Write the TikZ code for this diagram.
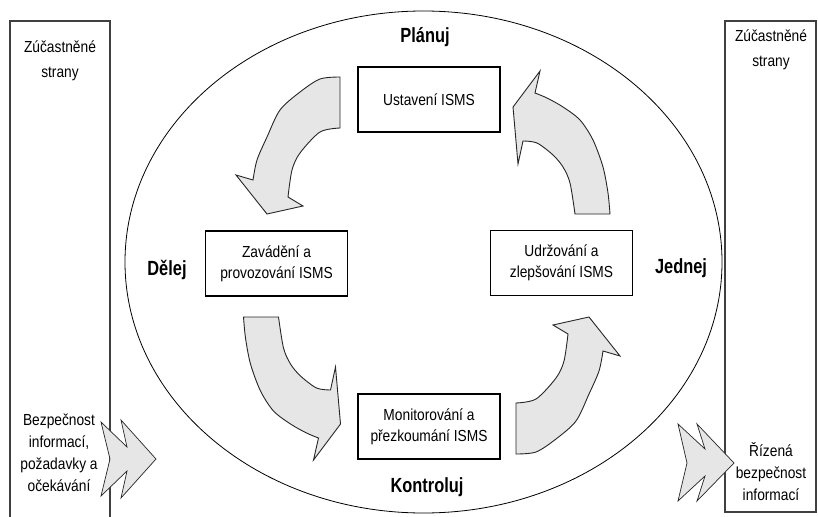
\documentclass[tikz,border=0pt]{standalone}
\usepackage{fontspec}
\newfontfamily\txtfont{Liberation Sans}[FakeStretch=0.86]
\newfontfamily\hdfont{Liberation Sans}[FakeStretch=0.8]
\definecolor{arrowgray}{HTML}{E6E6E6}
\definecolor{rectgray}{HTML}{404040}
\begin{document}
\begin{tikzpicture}[x=1pt,y=-1pt,
  stagebox/.style={draw=black, line width=1.1pt, minimum width=142pt, minimum height=65pt,
    inner sep=0pt, align=center, font=\txtfont\fontsize{16}{20.7}\selectfont},
  sidetext/.style={inner sep=0pt, align=center, font=\txtfont\fontsize{16}{22}\selectfont},
  sidetextwide/.style={inner sep=0pt, align=center, font=\txtfont\fontsize{16}{24.5}\selectfont},
  phase/.style={inner sep=0pt, font=\hdfont\bfseries\fontsize{20.5}{24}\selectfont},
  bigarrow/.style={fill=arrowgray, draw=black!85, line width=0.9pt, line join=miter},
  sidebox/.style={draw=rectgray, line width=1.2pt}]
\useasboundingbox (0,0) rectangle (818,516);
\fill[white] (0,0) rectangle (818,516);
\clip (0,0) rectangle (818,516);

% side boxes
\draw[sidebox] (10,530) -- (10,21) -- (110,21) -- (110,530);
\draw[sidebox] (725,21) rectangle (816,512);

% ellipse
\draw[line width=0.8pt] (423.5,262) ellipse [x radius=298.5pt, y radius=251pt];

% stage boxes
\node[stagebox] (plan) at (429,99.5) {Ustavení ISMS};
\node[stagebox] (do) at (276.5,263.5) {Zavádění a\\provozování ISMS};
\node[stagebox] (act) at (561.5,263) {Udržování a\\zlepšování ISMS};
\node[stagebox] (check) at (429,426.5) {Monitorování a\\přezkoumání ISMS};

% phase labels
\node[phase] (lplan) at (425,37) {Plánuj};
\node[phase] (lcheck) at (427,487) {Kontroluj};
\node[phase] (ldo) at (167,270) {Dělej};
\node[phase] (lact) at (681,268) {Jednej};

% side texts
\node[sidetextwide] (lparty) at (60,61) {Zúčastněné\\strany};
\node[sidetextwide] (rparty) at (771,50) {Zúčastněné\\strany};
\node[sidetext] (lreq) at (59,453) {Bezpečnost\\informací,\\požadavky a\\očekávání};
\node[sidetext] (rres) at (771,472) {Řízená\\bezpečnost\\informací};

% curved arrows: top-left
\filldraw[bigarrow] (340,77) -- (340,128)
  -- plot[smooth] coordinates {(340,128) (320,132) (300,153) (292,170) (288,197)}
  -- (303,206) -- (267,214) -- (236,175)
  -- plot[smooth] coordinates {(253,180) (257,160) (267,137) (280,110) (300,92) (320,79) (340,77)}
  -- cycle;
% top-right
\filldraw[bigarrow] (575,214) -- (610,214)
  -- plot[smooth] coordinates {(610,214) (608,193) (603,167) (593,140) (580,120) (563,107) (547,98) (535,93)}
  -- (540,71) -- (513,107) -- (518,164)
  -- plot[smooth] coordinates {(523,141) (537,143) (553,155) (563,167) (570,183) (575,214)}
  -- cycle;
% bottom-left (top-right turned half round)
\begin{scope}[rotate around={180:(426.75,265.5)}]
\filldraw[bigarrow] (575,214) -- (610,214)
  -- plot[smooth] coordinates {(610,214) (608,193) (603,167) (593,140) (580,120) (563,107) (547,98) (535,93)}
  -- (540,71) -- (513,107) -- (518,164)
  -- plot[smooth] coordinates {(523,141) (537,143) (553,155) (563,167) (570,183) (575,214)}
  -- cycle;
\end{scope}
% bottom-right (top-left turned half round)
\begin{scope}[rotate around={180:(428,265.5)}]
\filldraw[bigarrow] (340,77) -- (340,128)
  -- plot[smooth] coordinates {(340,128) (320,132) (300,153) (292,170) (288,197)}
  -- (303,206) -- (267,214) -- (236,175)
  -- plot[smooth] coordinates {(253,180) (257,160) (267,137) (280,110) (300,92) (320,79) (340,77)}
  -- cycle;
\end{scope}

% zigzag arrows
\filldraw[bigarrow, line width=0.7pt] (101,422) -- (127,447) -- (121,420) -- (156,459)
  -- (121,498) -- (127,471) -- (101,496) -- (110,459) -- cycle;
\filldraw[bigarrow, line width=0.7pt] (678,424) -- (705,449) -- (697,424) -- (734,463)
  -- (697,501) -- (705,476) -- (678,501) -- (687,463) -- cycle;
\end{tikzpicture}
\end{document}
